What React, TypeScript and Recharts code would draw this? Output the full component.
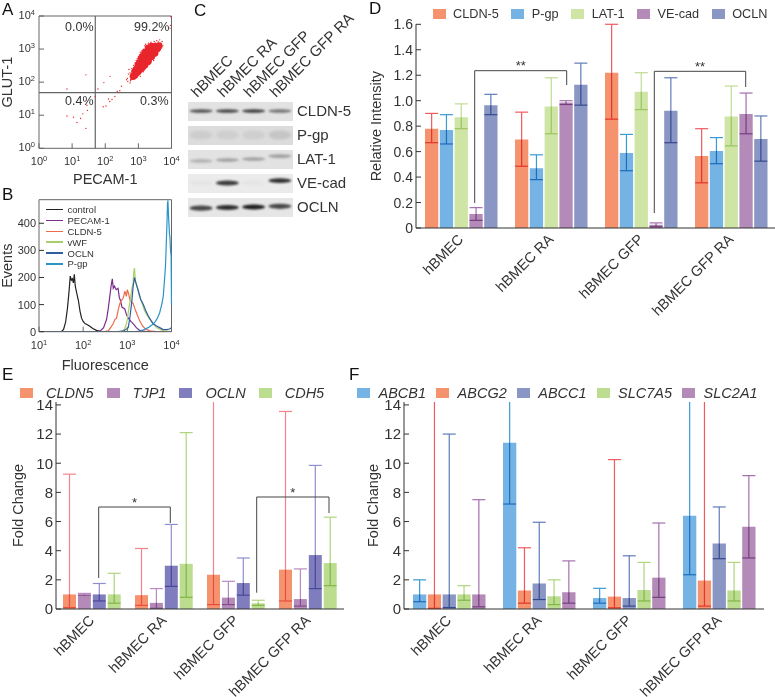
import {
  BarChart,
  Bar,
  ErrorBar,
  XAxis,
  YAxis,
  Legend,
  LineChart,
  Line,
  ScatterChart,
  Scatter,
  ReferenceLine,
  ReferenceArea
} from 'recharts'

const categories = ['hBMEC', 'hBMEC RA', 'hBMEC GFP', 'hBMEC GFP RA']

// Panel A, flow cytometry events
const denseEvents = [
  [700, 150], [780, 165], [780, 210], [880, 190], [880, 250], [985, 210], [985, 265], [985, 335], [1100, 240], [1100, 400], [1250, 265], [1250, 335], [1250, 425], [1250, 535],
  [1400, 300], [1400, 620], [1580, 335], [1580, 425], [1580, 535], [1580, 675], [1580, 800], [1990, 425], [1990, 535], [1990, 675], [1990, 850], [1990, 1070],
  [2500, 600], [2500, 755], [2500, 950], [2500, 1200], [3160, 755], [3160, 950], [3160, 1200], [3800, 1070], [4200, 1250]
]
const sparseEvents = [
  [470, 130], [500, 175], [520, 240], [560, 190], [590, 120], [610, 155], [640, 260], [660, 210], [700, 140], [720, 320],
  [740, 270], [770, 190], [800, 380], [830, 300], [860, 450], [900, 250], [930, 520], [950, 380], [1000, 600], [1050, 470],
  [1100, 680], [1150, 800], [1200, 620], [1300, 900], [1350, 720], [1450, 1000], [1550, 1250], [1650, 1400], [1800, 1250],
  [2000, 1500], [2200, 1350], [2400, 1600], [2700, 1450], [3000, 1700], [3300, 1500], [3600, 1800], [4000, 1650], [4400, 1900],
  [4800, 1500], [5200, 1700], [900, 140], [1000, 165], [1100, 180], [1200, 215], [1350, 240], [1500, 270], [1650, 300],
  [1800, 330], [2000, 380], [2200, 420], [2500, 470], [2800, 540], [3100, 600], [3400, 680], [3800, 760], [4200, 850],
  [4600, 950], [5000, 1100], [5500, 1250], [1150, 150], [1400, 205], [2100, 340], [2900, 450], [560, 95], [580, 110],
  [610, 120], [650, 125], [680, 135], [720, 135], [760, 150], [800, 130], [850, 170],
  [26, 166], [7, 62], [7, 9.5], [11, 8.7], [14, 6], [26, 4], [18, 8], [21, 11], [29, 14], [28, 20], [50, 37], [60, 62],
  [91, 97], [140, 150], [87, 18], [105, 19], [137, 26], [195, 37], [230, 52], [275, 55], [125, 31], [160, 30], [310, 75],
  [440, 118], [480, 105], [9000, 4300], [9600, 9500], [9300, 5200]
]

// Panel B, histogram traces
const controlTrace = [
  [32, 0], [36, 8], [40, 35], [44, 85], [48, 150], [51, 205], [54, 190], [57, 195], [60, 180], [63, 212], [66, 170],
  [72, 140], [78, 115], [85, 75], [92, 50], [100, 38], [110, 30], [125, 26], [141, 20], [165, 12], [200, 5], [250, 1], [400, 0], [10000, 0]
]
const pecamTrace = [
  [10, 0], [200, 0], [240, 2], [290, 15], [338, 45], [370, 85], [400, 130], [430, 170], [457, 195], [480, 160], [510, 168],
  [560, 155], [617, 160], [660, 125], [700, 115], [760, 90], [870, 85], [960, 62], [1050, 50], [1200, 38], [1350, 30],
  [1600, 15], [1900, 5], [2700, 0], [10000, 0]
]
const cldnTrace = [
  [10, 0], [300, 0], [370, 3], [430, 18], [480, 30], [520, 45], [570, 50], [630, 85], [700, 110], [760, 118], [810, 125],
  [880, 150], [950, 130], [1000, 155], [1070, 140], [1140, 118], [1250, 110], [1350, 105], [1480, 85], [1610, 70], [1900, 40],
  [2200, 22], [2500, 12], [3200, 3], [4500, 0], [10000, 0]
]
const vwfTrace = [
  [10, 0], [700, 0], [850, 8], [960, 30], [1060, 75], [1170, 120], [1270, 160], [1350, 180], [1410, 225], [1450, 235],
  [1520, 190], [1670, 165], [1850, 135], [2100, 110], [2400, 82], [2700, 65], [3100, 50], [3550, 40], [4000, 26], [4570, 15],
  [6500, 3], [10000, 0]
]
const oclnTrace = [
  [10, 0], [600, 0], [810, 2], [1050, 15], [1150, 55], [1260, 110], [1350, 165], [1450, 200], [1560, 180], [1780, 150],
  [2000, 120], [2300, 100], [2600, 78], [2950, 60], [3400, 42], [3800, 30], [4500, 22], [5400, 15], [6500, 8], [7800, 8],
  [9000, 10], [10000, 15]
]
const pgpTrace = [
  [10, 0], [1500, 0], [1900, 2], [2400, 8], [2950, 15], [3600, 25], [4200, 35], [4800, 50], [5400, 70], [6000, 100],
  [6500, 130], [6900, 185], [7300, 240], [7600, 320], [7900, 400], [8100, 470], [8300, 485], [8600, 420], [9000, 360], [9200, 350],
  [9500, 300], [9800, 280], [10000, 100]
]
const traceNames = ['control', 'PECAM-1', 'CLDN-5', 'vWF', 'OCLN', 'P-gp']
const traces = [controlTrace, pecamTrace, cldnTrace, vwfTrace, oclnTrace, pgpTrace]
const traceColors = ['#222222', '#7b2d8e', '#ee6a4d', '#a9cf6a', '#2f5e9e', '#2a94c9']

// Panel C, band strength per lane
const blotRows = ['CLDN-5', 'P-gp', 'LAT-1', 'VE-cad', 'OCLN']
const cldn5Bands = [0.75, 0.8, 0.85, 0.6]
const pgpBands = [0.2, 0.19, 0.19, 0.23]
const lat1Bands = [0.32, 0.4, 0.4, 0.4]
const vecadBands = [0.1, 0.85, 0.1, 0.9]
const oclnBands = [0.8, 0.92, 0.98, 0.8]
const blotBands = [cldn5Bands, pgpBands, lat1Bands, vecadBands, oclnBands]
const blotTilt = [
  [0, 0, 0, 0],
  [0, 0, 0, 0],
  [0.08, 0.04, 0, -0.12],
  [0, 0, 0, -0.1],
  [0.05, 0.02, 0, -0.03]
]

// Panel D
const dCldn5 = [0.78, 0.695, 1.22, 0.565]
const dCldn5Low = [0.67, 0.485, 0.855, 0.355]
const dCldn5High = [0.9, 0.91, 1.6, 0.78]
const dPgp = [0.77, 0.47, 0.59, 0.605]
const dPgpLow = [0.66, 0.38, 0.45, 0.505]
const dPgpHigh = [0.89, 0.575, 0.735, 0.71]
const dLat1 = [0.87, 0.955, 1.07, 0.875]
const dLat1Low = [0.78, 0.74, 0.93, 0.645]
const dLat1High = [0.975, 1.18, 1.22, 1.115]
const dVecad = [0.11, 0.985, 0.025, 0.895]
const dVecadLow = [0.06, 0.97, 0.01, 0.74]
const dVecadHigh = [0.16, 1.0, 0.04, 1.06]
const dOcln = [0.965, 1.125, 0.92, 0.7]
const dOclnLow = [0.89, 0.965, 0.67, 0.525]
const dOclnHigh = [1.05, 1.295, 1.18, 0.88]

// Panel E, 16 means off the top of the axis
const eCldn5 = [1.0, 0.95, 2.35, 2.7]
const eCldn5Low = [0.1, 0.25, 0.3, 0.55]
const eCldn5High = [9.25, 4.15, 16, 13.55]
const eTjp1 = [1.0, 0.42, 0.78, 0.68]
const eTjp1Low = [0.95, 0.05, 0.3, 0.2]
const eTjp1High = [1.07, 1.4, 1.9, 2.75]
const eOcln = [1.0, 2.97, 1.78, 3.7]
const eOclnLow = [0.55, 1.55, 0.95, 1.4]
const eOclnHigh = [1.75, 5.8, 3.5, 9.85]
const eCdh5 = [1.0, 3.1, 0.4, 3.15]
const eCdh5Low = [0.4, 0.8, 0.25, 1.6]
const eCdh5High = [2.45, 12.1, 0.6, 6.3]

// Panel F
const fAbcb1 = [1.0, 11.4, 0.75, 6.4]
const fAbcb1Low = [0.5, 7.2, 0.4, 2.35]
const fAbcb1High = [2.0, 16, 1.42, 16]
const fAbcg2 = [1.0, 1.27, 0.85, 1.95]
const fAbcg2Low = [0.05, 0.4, 0.08, 0.2]
const fAbcg2High = [16, 4.2, 10.25, 16]
const fAbcc1 = [1.0, 1.75, 0.75, 4.5]
const fAbcc1Low = [0.1, 0.65, 0.2, 3.45]
const fAbcc1High = [12.0, 5.95, 3.65, 7.0]
const fSlc7a5 = [1.0, 0.87, 1.3, 1.27]
const fSlc7a5Low = [0.6, 0.3, 0.55, 0.55]
const fSlc7a5High = [1.6, 2.0, 3.2, 3.2]
const fSlc2a1 = [1.0, 1.15, 2.15, 5.65]
const fSlc2a1Low = [0.15, 0.4, 0.8, 3.5]
const fSlc2a1High = [7.5, 3.3, 5.9, 9.15]

// err colours get multiplied over the bars, so whiskers read pale on white and dark inside a bar
const ORANGE = { fill: '#f5936f', err: '#ef5a60' }
const BLUE = { fill: '#74b3e3', err: '#3a9bd4' }
const GREEN = { fill: '#cfe5a6', err: '#bfdc94' }
const GREEN2 = { fill: '#bcdc90', err: '#b0d57e' }
const PURPLE = { fill: '#b48bb8', err: '#a56fae' }
const SLATE = { fill: '#8a96c4', err: '#5f7bb8' }
const INDIGO = { fill: '#7f7dbd', err: '#8f8fcf' }

const dSeries = [
  { key: 'CLDN-5', values: dCldn5, low: dCldn5Low, high: dCldn5High, ...ORANGE },
  { key: 'P-gp', values: dPgp, low: dPgpLow, high: dPgpHigh, ...BLUE },
  { key: 'LAT-1', values: dLat1, low: dLat1Low, high: dLat1High, ...GREEN },
  { key: 'VE-cad', values: dVecad, low: dVecadLow, high: dVecadHigh, ...PURPLE },
  { key: 'OCLN', values: dOcln, low: dOclnLow, high: dOclnHigh, ...SLATE }
]
const eSeries = [
  { key: 'CLDN5', values: eCldn5, low: eCldn5Low, high: eCldn5High, ...ORANGE, err: '#f4848c' },
  { key: 'TJP1', values: eTjp1, low: eTjp1Low, high: eTjp1High, ...PURPLE, err: '#b98bc0' },
  { key: 'OCLN', values: eOcln, low: eOclnLow, high: eOclnHigh, ...INDIGO },
  { key: 'CDH5', values: eCdh5, low: eCdh5Low, high: eCdh5High, ...GREEN2 }
]
const fSeries = [
  { key: 'ABCB1', values: fAbcb1, low: fAbcb1Low, high: fAbcb1High, ...BLUE },
  { key: 'ABCG2', values: fAbcg2, low: fAbcg2Low, high: fAbcg2High, ...ORANGE },
  { key: 'ABCC1', values: fAbcc1, low: fAbcc1Low, high: fAbcc1High, ...SLATE },
  { key: 'SLC7A5', values: fSlc7a5, low: fSlc7a5Low, high: fSlc7a5High, ...GREEN2 },
  { key: 'SLC2A1', values: fSlc2a1, low: fSlc2a1Low, high: fSlc2a1High, ...PURPLE }
]

const TEXT = '#333333'
const FRAME = '#666666'
const decades = (from: number, to: number) => {
  const out: number[] = []
  for (let v = from; v <= to; v *= 10) out.push(v)
  return out
}

const buildRows = (series: any[]) =>
  categories.map((name, i) => {
    const row: any = { name }
    series.forEach(s => {
      row[s.key] = s.values[i]
      row[s.key + 'Err'] = [s.values[i] - s.low[i], s.high[i] - s.values[i]]
    })
    return row
  })

const toPoints = (pairs: number[][]) => pairs.map(([x, y]) => ({ x, y }))

// tick marks point inward on the y axes, so they get drawn with the label
const ValueTick = ({ x, y, payload, fontSize, format, mark = 3 }: any) => (
  <g>
    <line x1={x + mark} x2={x + mark + 5} y1={y} y2={y} stroke={TEXT} />
    <text x={x} y={y} dy="0.36em" textAnchor="end" fontSize={fontSize} fill={TEXT}>
      {format(payload.value)}
    </text>
  </g>
)

const power = (v: number) => Math.round(Math.log10(v))

const LogXTick = ({ x, y, payload }: any) => (
  <g>
    <line x1={x} x2={x} y1={y - 6} y2={y - 1} stroke={FRAME} />
    <text x={x} y={y + 16} textAnchor="middle" fontSize={11} fill={TEXT}>
      10<tspan dy={-4} fontSize={7.5}>{power(payload.value)}</tspan>
    </text>
  </g>
)

const LogYTick = ({ x, y, payload }: any) => (
  <g>
    <line x1={x + 3} x2={x + 8} y1={y} y2={y} stroke={FRAME} />
    <text x={x - 1} y={y + 3} textAnchor="end" fontSize={11} fill={TEXT}>
      10<tspan dy={-4} fontSize={7.5}>{power(payload.value)}</tspan>
    </text>
  </g>
)

const FlowPanel = () => (
  <div style={{ position: 'absolute', left: 0, top: 0 }}>
    <ScatterChart width={190} height={190} margin={{ top: 16, right: 18.5, bottom: 0, left: 0 }}>
      <XAxis
        type="number"
        dataKey="x"
        scale="log"
        domain={[1, 10000]}
        ticks={decades(1, 10000)}
        interval={0}
        height={41.7}
        tickSize={0}
        tickMargin={1}
        tick={<LogXTick />}
        stroke={FRAME}
        label={{ value: 'PECAM-1', position: 'insideBottom', offset: 6, fontSize: 14.5, fill: TEXT }}
      />
      <YAxis
        type="number"
        dataKey="y"
        scale="log"
        domain={[1, 10000]}
        ticks={decades(1, 10000)}
        interval={0}
        width={39}
        tickSize={0}
        tickMargin={3}
        tick={<LogYTick />}
        stroke={FRAME}
        label={{ value: 'GLUT-1', angle: -90, position: 'center', dx: -13, fontSize: 14.5, fill: TEXT }}
      />
      <ReferenceLine x={10000} stroke={FRAME} />
      <ReferenceLine y={10000} stroke={FRAME} />
      <Scatter
        data={toPoints(sparseEvents)}
        isAnimationActive={false}
        shape={(p: any) => <circle cx={p.cx} cy={p.cy} r={0.7} fill="#e8262c" />}
      />
      <Scatter
        data={toPoints(denseEvents)}
        isAnimationActive={false}
        shape={(p: any) => <circle cx={p.cx} cy={p.cy} r={3.6} fill="#e8262c" />}
      />
      <ReferenceLine x={50} stroke={FRAME} strokeWidth={1.2} />
      <ReferenceLine y={48} stroke={FRAME} strokeWidth={1.2} />
    </ScatterChart>
  </div>
)

const HistogramPanel = () => (
  <div style={{ position: 'absolute', left: 0, top: 185 }}>
    <LineChart width={190} height={190} margin={{ top: 14.7, right: 18.5, bottom: 0, left: 0 }}>
      <XAxis
        type="number"
        dataKey="x"
        scale="log"
        domain={[10, 10000]}
        ticks={decades(10, 10000)}
        interval={0}
        height={43.3}
        tickSize={0}
        tickMargin={1}
        tick={<LogXTick />}
        stroke={FRAME}
        allowDuplicatedCategory={false}
        label={{ value: 'Fluorescence', position: 'insideBottom', offset: 5, fontSize: 14.5, fill: TEXT }}
      />
      <YAxis
        type="number"
        domain={[0, 487]}
        ticks={[0, 100, 200, 300, 400]}
        allowDataOverflow
        width={39}
        tickSize={0}
        tickMargin={3}
        stroke={FRAME}
        tick={<ValueTick fontSize={11} format={(v: number) => String(v)} />}
        label={{ value: 'Events', angle: -90, position: 'center', dx: -13, fontSize: 14.5, fill: TEXT }}
      />
      <ReferenceLine x={10000} stroke={FRAME} />
      <ReferenceLine y={487} stroke={FRAME} />
      {traces.map((trace, i) => (
        <Line
          key={traceNames[i]}
          name={traceNames[i]}
          data={toPoints(trace)}
          dataKey="y"
          type="linear"
          stroke={traceColors[i]}
          strokeWidth={1.2}
          dot={false}
          isAnimationActive={false}
        />
      ))}
      <Legend
        layout="horizontal"
        align="center"
        verticalAlign="middle"
        wrapperStyle={{ left: 46, top: 19, width: 90 }}
        content={() => (
          <div>
            {traceNames.map((name, i) => (
              <div key={name} style={{ display: 'flex', alignItems: 'center', height: 10.9, fontSize: 9.5, color: TEXT }}>
                <span style={{ width: 17, height: 1.3, marginRight: 4.5, background: traceColors[i] }} />
                {name}
              </div>
            ))}
          </div>
        )}
      />
    </LineChart>
  </div>
)

const LaneTick = ({ x, y, payload }: any) => (
  <text
    x={x - 4}
    y={y - 1}
    transform={`rotate(-45 ${x - 4} ${y - 1})`}
    fontSize={15}
    fill={TEXT}
  >
    {categories[payload.value - 1]}
  </text>
)

const RowTick = ({ x, y, payload }: any) => (
  <text x={x} y={y} dy="0.36em" fontSize={15} fill={TEXT}>
    {blotRows[payload.value]}
  </text>
)

const bandThickness = [1.8, 4.5, 1.8, 2.4, 2.6]
const rowShade = ['#e2e2e2', '#dcdcdc', '#e2e2e2', '#ebebeb', '#e6e6e6']

const Band = ({ cx, cy, payload }: any) => {
  const grey = Math.round(225 * (1 - payload.level) + 25)
  return (
    <ellipse
      cx={cx}
      cy={cy}
      rx={11.5}
      ry={bandThickness[payload.row]}
      fill={`rgb(${grey},${grey},${grey})`}
      style={{ filter: 'blur(1px)' }}
    />
  )
}

const blotPoints = blotBands.flatMap((levels, row) =>
  levels.map((level, lane) => ({ lane: lane + 1, y: row + blotTilt[row][lane], row, level }))
)

const BlotPanel = () => (
  <div style={{ position: 'absolute', left: 185, top: 0 }}>
    <ScatterChart width={180} height={230} margin={{ top: 0, right: 0, bottom: 11, left: 3 }}>
      <XAxis
        type="number"
        dataKey="lane"
        orientation="top"
        domain={[0.5, 4.5]}
        ticks={[1, 2, 3, 4]}
        interval={0}
        height={99}
        axisLine={false}
        tickLine={false}
        tickSize={0}
        tickMargin={0}
        tick={<LaneTick />}
      />
      <YAxis
        type="number"
        dataKey="y"
        orientation="right"
        reversed
        domain={[-0.5, 4.5]}
        ticks={[0, 1, 2, 3, 4]}
        interval={0}
        width={72}
        axisLine={false}
        tickLine={false}
        tickSize={0}
        tickMargin={4}
        tick={<RowTick />}
      />
      {blotRows.map((name, row) => (
        <ReferenceArea key={name} y1={row - 0.38} y2={row + 0.42} fill={rowShade[row]} fillOpacity={1} stroke="none" />
      ))}
      <Scatter data={blotPoints} isAnimationActive={false} shape={<Band />} />
    </ScatterChart>
  </div>
)

const BarPanel = ({
  left, top, width, height, yWidth, marginTop, marginRight, xHeight, series, domain, ticks, format, clipClass,
  fontSize, xFontSize, barSize, barGap, yLabel, labelDx, legendBox, legendFont, italic, swatchGap, itemGap
}: any) => (
  <div className={clipClass} style={{ position: 'absolute', left, top }}>
    <BarChart
      width={width}
      height={height}
      data={buildRows(series)}
      margin={{ top: marginTop, right: marginRight, bottom: 0, left: 0 }}
      barSize={barSize}
      barGap={barGap}
    >
      <XAxis
        dataKey="name"
        interval={0}
        height={xHeight}
        tickLine={false}
        tickMargin={2}
        angle={-45}
        textAnchor="end"
        stroke={TEXT}
        tick={{ fontSize: xFontSize, fill: TEXT, dx: -4, dy: -3 }}
      />
      <YAxis
        type="number"
        domain={domain}
        ticks={ticks}
        interval={0}
        allowDataOverflow
        width={yWidth}
        tickSize={0}
        tickMargin={3}
        stroke={TEXT}
        tick={<ValueTick fontSize={fontSize} format={format} />}
        label={{ value: yLabel, angle: -90, position: 'center', dx: labelDx, fontSize: 14.5, fill: TEXT }}
      />
      {series.map((s: any) => (
        <Bar key={s.key} dataKey={s.key} fill={s.fill} isAnimationActive={false}>
          <ErrorBar dataKey={s.key + 'Err'} width={6.5} stroke={s.err} strokeWidth={1.2} direction="y" isAnimationActive={false} />
        </Bar>
      ))}
      <Legend
        layout="horizontal"
        align="center"
        verticalAlign="middle"
        wrapperStyle={legendBox}
        content={() => (
          <div style={{ display: 'flex', alignItems: 'center', whiteSpace: 'nowrap', lineHeight: '12px', fontSize: legendFont, color: TEXT, fontStyle: italic ? 'italic' : 'normal' }}>
            {series.map((s: any) => (
              <span key={s.key} style={{ display: 'flex', alignItems: 'center', marginRight: itemGap }}>
                <span style={{ width: 13, height: 10, marginRight: swatchGap, background: s.fill }} />
                {s.key}
              </span>
            ))}
          </div>
        )}
      />
    </BarChart>
  </div>
)

const Bracket = ({ x1, x2, top, y1, y2, star, starY }: any) => (
  <g>
    <polyline points={`${x1},${y1} ${x1},${top} ${x2},${top} ${x2},${y2}`} fill="none" stroke="#444444" strokeWidth={1} />
    <text x={(x1 + x2) / 2} y={starY} textAnchor="middle" fontSize={13} fill={TEXT}>{star}</text>
  </g>
)

const panelLetters = [
  { id: 'A', x: 2, y: 15 },
  { id: 'B', x: 2, y: 200 },
  { id: 'C', x: 194, y: 16 },
  { id: 'D', x: 369, y: 14 },
  { id: 'E', x: 2, y: 380 },
  { id: 'F', x: 349, y: 380 }
]

const oneDecimal = (v: number) => (v === 0 ? '0' : v.toFixed(1))
const whole = (v: number) => String(v)

export default function App() {
  return (
    <div style={{ position: 'relative', width: 775, height: 697, overflow: 'hidden', background: '#fff', fontFamily: '"Liberation Sans", Arial, sans-serif' }}>
      <style>{'body{margin:0} .recharts-errorBars{mix-blend-mode:multiply} .fold .recharts-errorBars{clip-path:url(#foldClip)}'}</style>
      <FlowPanel />
      <HistogramPanel />
      <BlotPanel />
      <BarPanel
        left={365.5} top={0} width={410} height={320} yWidth={50} marginTop={24.3} marginRight={0} xHeight={92}
        series={dSeries} domain={[0, 1.6]} ticks={[0, 0.2, 0.4, 0.6, 0.8, 1.0, 1.2, 1.4, 1.6]} format={oneDecimal}
        fontSize={14} xFontSize={14.5} barSize={13.3} barGap={1.5} yLabel="Relative Intensity" labelDx={-15}
        legendBox={{ left: 67, top: 8, width: 340 }} legendFont={12.7} swatchGap={7.5} itemGap={12.5}
      />
      <BarPanel
        clipClass="fold"
        left={0} top={380} width={385} height={317} yWidth={56} marginTop={22} marginRight={41} xHeight={88}
        series={eSeries} domain={[0, 14.2]} ticks={[0, 2, 4, 6, 8, 10, 12, 14]} format={whole}
        fontSize={15} xFontSize={14.5} barSize={13} barGap={1.9} yLabel="Fold Change" labelDx={-10}
        legendBox={{ left: 20, top: 7, width: 340 }} legendFont={14.5} italic swatchGap={13} itemGap={13}
      />
      <BarPanel
        clipClass="fold"
        left={354} top={380} width={421} height={317} yWidth={50} marginTop={22} marginRight={11} xHeight={88}
        series={fSeries} domain={[0, 14.2]} ticks={[0, 2, 4, 6, 8, 10, 12, 14]} format={whole}
        fontSize={15} xFontSize={14.5} barSize={13.3} barGap={1.5} yLabel="Fold Change" labelDx={-6}
        legendBox={{ left: 3, top: 7, width: 418 }} legendFont={14.5} italic swatchGap={8.5} itemGap={10}
      />
      <svg width={775} height={697} style={{ position: 'absolute', left: 0, top: 0, pointerEvents: 'none' }}>
        <defs>
          <clipPath id="foldClip">
            <rect x={0} y={22} width={800} height={400} />
          </clipPath>
        </defs>
        <Bracket x1={474.7} x2={566.7} top={70.7} y1={203} y2={85} star="**" starY={70} />
        <Bracket x1={654.3} x2={745.7} top={71.3} y1={213} y2={87} star="**" starY={71} />
        <Bracket x1={98.7} x2={170.3} top={507} y1={578} y2={523} star="*" starY={507} />
        <Bracket x1={256.7} x2={329} top={497} y1={592.7} y2={513} star="*" starY={497} />
        <text x={65} y={31} fontSize={12.5} fill={TEXT}>0.0%</text>
        <text x={134} y={31} fontSize={12.5} fill={TEXT}>99.2%</text>
        <text x={65} y={105} fontSize={12.5} fill={TEXT}>0.4%</text>
        <text x={140} y={105} fontSize={12.5} fill={TEXT}>0.3%</text>
        {panelLetters.map(l => (
          <text key={l.id} x={l.x} y={l.y} fontSize={17} fill="#111111">{l.id}</text>
        ))}
      </svg>
    </div>
  )
}
